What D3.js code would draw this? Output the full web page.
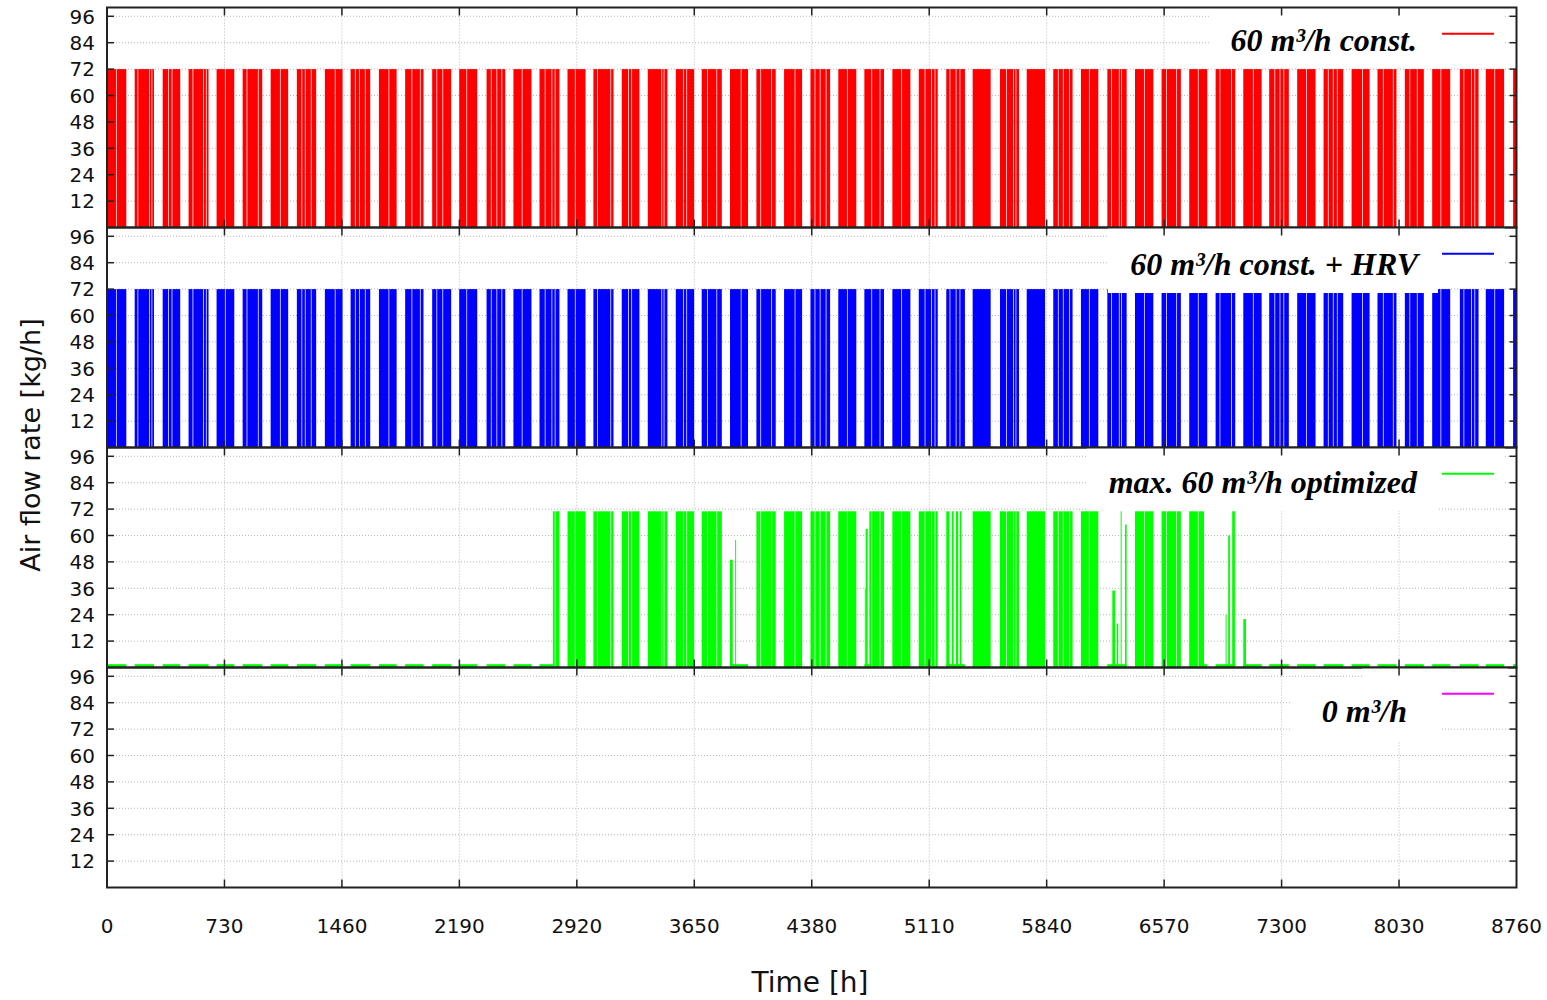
<!DOCTYPE html>
<html>
<head>
<meta charset="utf-8">
<script src="https://cdn.jsdelivr.net/npm/d3@7"></script>
<style>
  html, body { margin: 0; padding: 0; background: #fff; }
  svg { display: block; }
</style>
</head>
<body>
<svg id="chart" width="1547" height="1000"></svg>
<script>
// ---------------- DATA ----------------
const xTickValues = [0, 730, 1460, 2190, 2920, 3650, 4380, 5110, 5840, 6570, 7300, 8030, 8760];
const yTickValues = [12, 24, 36, 48, 60, 72, 84, 96];

const seriesNames = ["60 m³/h const.", "60 m³/h const. + HRV", "max. 60 m³/h optimized", "0 m³/h"];
const seriesColors = ["#ff0000", "#0000ff", "#00ff00", "#ff00ff"];

// 60 m3/h const. : on-periods [h] at 72 kg/h
const redStart = [0,172,346,507,681,843,1017,1180,1354,1514,1690,1853,2021,2189,2359,2526,2688,2862,3023,3199,3361,3535,3696,3872,4036,4208,4372,4545,4707,4881,5045,5216,5380,5550,5716,5881,6053,6217,6389,6554,6726,6890,7062,7223,7397,7561,7735,7896,8066,8236,8408,8569,8739];
const redEnd   = [120,292,455,631,791,965,1126,1300,1464,1636,1800,1967,2139,2301,2475,2638,2812,2974,3148,3309,3483,3649,3821,3984,4156,4320,4494,4657,4829,4993,5163,5332,5492,5668,5830,6001,6161,6337,6503,6674,6838,7012,7176,7345,7511,7683,7847,8014,8184,8348,8524,8683,8760];
const redLevel = 72;

// 60 m3/h const. + HRV : on-periods [h] at 72 kg/h
const blueStart = [0,172,346,507,681,843,1017,1180,1354,1514,1690,1853,2021,2189,2359,2526,2688,2862,3023,3199,3361,3535,3696,3872,4036,4208,4372,4545,4707,4881,5045,5216,5380,5550,5716,5881,6053,6217,6389,6554,6726,6890,7062,7223,7397,7561,7735,7896,8066,8236,8408,8569,8739];
const blueEnd   = [120,292,455,631,791,965,1126,1300,1464,1636,1800,1967,2139,2301,2475,2638,2812,2974,3148,3309,3483,3649,3821,3984,4156,4320,4494,4657,4829,4993,5163,5332,5492,5668,5830,6001,6161,6337,6503,6674,6838,7012,7176,7345,7511,7683,7847,8014,8184,8348,8524,8683,8760];
const blueLevel = 72;

// short off-hours inside the occupied periods (thin white lines) [h]
const offHours = [58,192,265,279,383,404,534,600,617,735,870,940,1077,1211,1232,1269,1418,1543,1570,1605,1752,1895,1947,2050,2087,2236,2388,2423,2454,2580,2723,2765,2785,2910,3048,3131,3241,3261,3448,3462,3582,3603,3732,3790,3941,4063,4131,4276,4400,4432,4469,4601,4753,4804,4939,5084,5125,5146,5239,5277,5301,5591,5633,5649,5912,5943,5981,6105,6244,6291,6306,6447,6585,6648,6782,6917,6989,7124,7258,7290,7314,7455,7590,7621,7646,7803,7932,7994,8097,8143,8290,8433,8480,8501,8625];
const offWidth = 4.5;

// max. 60 m3/h optimized : segments [h] and flow [kg/h]
const greenStart = [0,172,346,507,681,843,1017,1180,1354,1514,1690,1853,2021,2189,2359,2526,
  2688,2771,2862,3023,3199,3361,3535,3696,
  3872,3872,3904,
  4036,4208,4372,4545,
  4707,4710,4715,4738,
  4881,5045,
  5216,5216,5250,5276,5300,
  5380,5550,5716,5881,6053,
  6217,6248,6275,6300,6327,
  6389,6554,6726,6818,
  6890,6952,6968,6993,
  7062,7062,
  7223,7397,7561,7735,7896,8066,8236,8408,8569,8739];
const greenEnd = [120,292,455,631,791,965,1126,1300,1464,1636,1800,1967,2139,2301,2475,2638,
  2771,2812,2974,3148,3309,3483,3649,3821,
  3984,3889,3910,
  4156,4320,4494,4657,
  4738,4715,4728,4829,
  4993,5163,
  5332,5236,5262,5290,5310,
  5492,5668,5830,6001,6161,
  6337,6265,6285,6306,6337,
  6503,6674,6818,6838,
  7012,6958,6979,7010,
  7176,7079,
  7345,7511,7683,7847,8014,8184,8348,8524,8683,8760];
const greenValue = [1.5,1.5,1.5,1.5,1.5,1.5,1.5,1.5,1.5,1.5,1.5,1.5,1.5,1.5,1.5,1.5,
  1.5,71,71,71,71,71,71,71,
  1.5,49,58,
  71,71,71,71,
  1.5,36,63,71,
  71,71,
  1.5,71,71,71,71,
  71,71,71,71,71,
  1.5,35,20,71,65,
  71,71,71,1.5,
  1.5,24,60,71,
  1.5,22,
  1.5,1.5,1.5,1.5,1.5,1.5,1.5,1.5,1.5,1.5];

// 0 m3/h : no flow
const magentaStart = [];
const magentaEnd = [];
const magentaLevel = 0;

// ---------------- LAYOUT ----------------
const svg = d3.select("#chart");
const left = 107, right = 1516.5;
const panelTops = [7.5, 227.5, 447.5, 667.5];
const panelH = 220;
const x = d3.scaleLinear().domain([0, 8760]).range([left, right]);

const tickFont = "DejaVu Sans, Verdana, sans-serif";
const legendFont = "Liberation Serif, Times New Roman, serif";

// legend cover boxes (white) per panel: [x0, y0(rel), x1, y1(rel)]
const legendBoxes = [
  [[1210, 0, 1505, 58]],
  [[1108, 0, 1438, 65.5], [1438, 0, 1505, 60]],
  [[1087, 0, 1438, 63.5], [1438, 0, 1505, 53]],
  [[1290, 16, 1442, 74], [1362, 0, 1508, 48]]
];
const legendText = [
  {x: 1417, y: 43},
  {x: 1418, y: 47.5},
  {x: 1417, y: 45.8},
  {x: 1407, y: 54.6}
];

function splitByGaps(s, e, v, useGaps) {
  if (!useGaps || e - s < 30) return [[s, e, v]];
  const out = [];
  let cur = s;
  offHours.filter(g => g > s && g < e).sort((a, b) => a - b).forEach(g => {
    if (g - offWidth / 2 > cur) out.push([cur, g - offWidth / 2, v]);
    cur = g + offWidth / 2;
  });
  if (cur < e) out.push([cur, e, v]);
  return out;
}

const seriesSegs = [
  redStart.map((s, i) => [s, redEnd[i], redLevel]),
  blueStart.map((s, i) => [s, blueEnd[i], blueLevel]),
  greenStart.map((s, i) => [s, greenEnd[i], greenValue[i]]),
  magentaStart.map((s, i) => [s, magentaEnd[i], magentaLevel])
];

panelTops.forEach((top, p) => {
  const y = d3.scaleLinear().domain([0, 100]).range([top + panelH, top]);
  const g = svg.append("g");

  // grid
  const grid = g.append("g").attr("stroke", "#b8b8b8").attr("stroke-width", 1)
    .attr("stroke-dasharray", "1,2");
  grid.selectAll("line.h").data(yTickValues).enter().append("line")
    .attr("x1", left).attr("x2", right)
    .attr("y1", d => y(d)).attr("y2", d => y(d));
  grid.selectAll("line.v").data(xTickValues.slice(1, -1)).enter().append("line")
    .attr("x1", d => x(d)).attr("x2", d => x(d))
    .attr("y1", top).attr("y2", top + panelH);

  // data
  const segs = [];
  seriesSegs[p].forEach(([s, e, v]) => {
    splitByGaps(s, e, v, v > 10).forEach(sg => segs.push(sg));
  });
  g.append("g").selectAll("rect").data(segs).enter().append("rect")
    .attr("x", d => x(d[0]))
    .attr("width", d => Math.max(0.6, x(d[1]) - x(d[0])))
    .attr("y", d => y(d[2]))
    .attr("height", d => y(0) - y(d[2]))
    .attr("fill", seriesColors[p]);

  // legend cover boxes
  legendBoxes[p].forEach(b => {
    g.append("rect").attr("x", b[0]).attr("y", top + b[1])
      .attr("width", b[2] - b[0]).attr("height", b[3] - b[1]).attr("fill", "#fff");
  });
  g.append("text").attr("x", legendText[p].x).attr("y", top + legendText[p].y)
    .attr("text-anchor", "end")
    .attr("font-family", legendFont).attr("font-size", 32)
    .attr("font-weight", "bold").attr("font-style", "italic").attr("fill", "#000")
    .text(seriesNames[p]);
  g.append("line").attr("x1", 1442).attr("x2", 1494)
    .attr("y1", top + 26.3).attr("y2", top + 26.3)
    .attr("stroke", seriesColors[p]).attr("stroke-width", 2);

  // ticks
  const ticks = g.append("g").attr("stroke", "#222").attr("stroke-width", 1.5);
  yTickValues.forEach(v => {
    ticks.append("line").attr("x1", left).attr("x2", left + 7).attr("y1", y(v)).attr("y2", y(v));
    ticks.append("line").attr("x1", right - 7).attr("x2", right).attr("y1", y(v)).attr("y2", y(v));
  });
  xTickValues.slice(1, -1).forEach(v => {
    ticks.append("line").attr("x1", x(v)).attr("x2", x(v)).attr("y1", top).attr("y2", top + 8);
    ticks.append("line").attr("x1", x(v)).attr("x2", x(v)).attr("y1", top + panelH - 8).attr("y2", top + panelH);
  });

  // border
  g.append("rect").attr("x", left).attr("y", top).attr("width", right - left).attr("height", panelH)
    .attr("fill", "none").attr("stroke", "#222").attr("stroke-width", 2);

  // y tick labels
  g.append("g").selectAll("text").data(yTickValues).enter().append("text")
    .attr("x", 95).attr("y", d => y(d))
    .attr("dy", "0.36em")
    .attr("text-anchor", "end")
    .attr("font-family", tickFont).attr("font-size", 20).attr("fill", "#111")
    .text(d => d);
});

// x tick labels
svg.append("g").selectAll("text").data(xTickValues).enter().append("text")
  .attr("x", d => x(d)).attr("y", 933)
  .attr("text-anchor", "middle")
  .attr("font-family", tickFont).attr("font-size", 20).attr("fill", "#111")
  .text(d => d);

// axis titles
svg.append("text").attr("x", 810).attr("y", 992)
  .attr("text-anchor", "middle")
  .attr("font-family", tickFont).attr("font-size", 28).attr("fill", "#111")
  .text("Time [h]");
svg.append("text")
  .attr("transform", "translate(40,445) rotate(-90)")
  .attr("text-anchor", "middle")
  .attr("font-family", tickFont).attr("font-size", 27).attr("fill", "#111")
  .text("Air flow rate [kg/h]");
</script>
</body>
</html>
